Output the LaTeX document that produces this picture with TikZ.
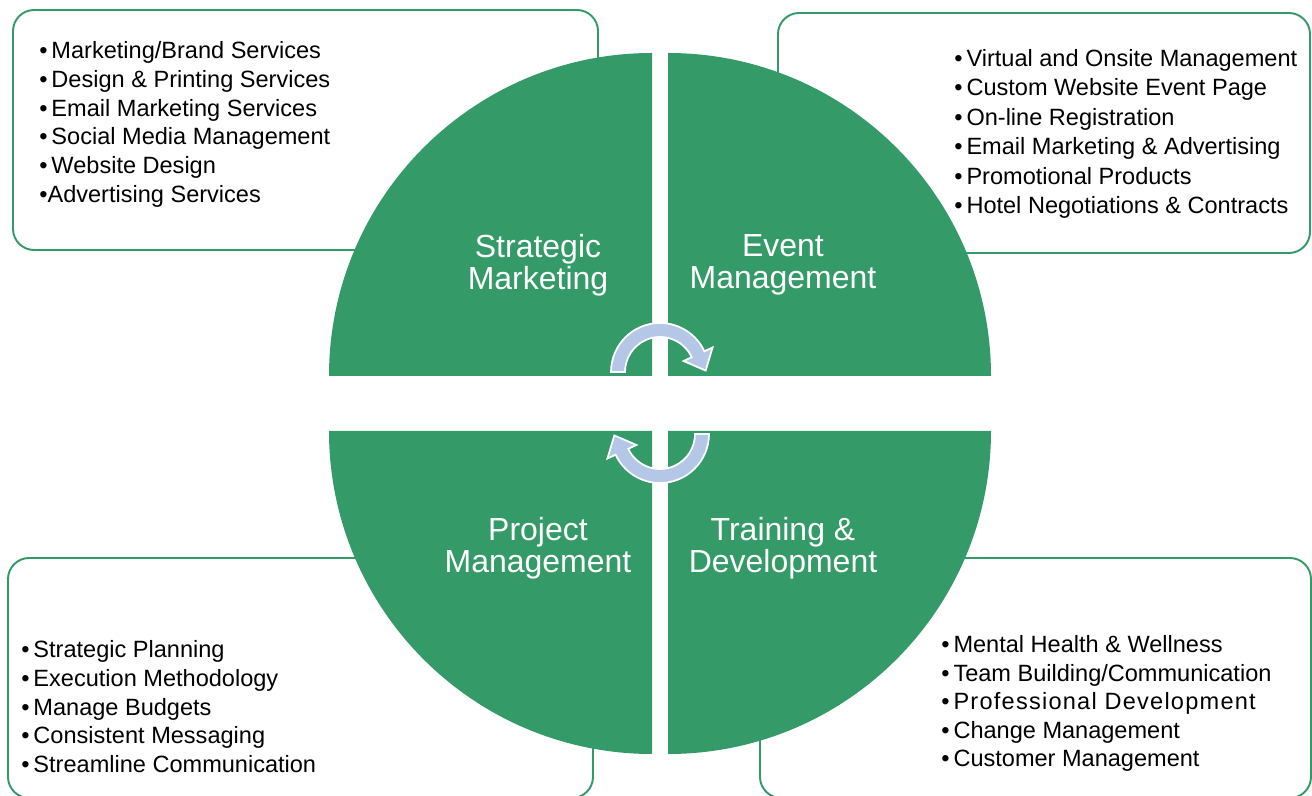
\documentclass[tikz,border=0pt]{standalone}
\usepackage{fontspec}
\setmainfont{Liberation Sans}
\usetikzlibrary{calc}
\definecolor{leafgreen}{RGB}{52,154,104}
\definecolor{cycleblue}{RGB}{180,199,231}
\newcommand{\bul}{\textbullet\,}

\begin{document}
\begin{tikzpicture}[
    x=0.02cm, y=0.02cm,
    infobox/.style={draw=leafgreen, line width=1.1pt, rounded corners=12pt, fill=white},
    quadrant/.style={fill=leafgreen},
    bullets/.style={anchor=north west, inner sep=0pt, align=left,
        font=\fontsize{13.4}{16.4}\selectfont},
    sectorlabel/.style={align=center, text=white, inner sep=0pt,
        font=\fontsize{18.2}{18.2}\selectfont},
    cyclearrow/.style={fill=cycleblue, draw=white, line width=1pt}
]
\useasboundingbox (0,0) rectangle (1312,795);

% service boxes
\draw[infobox] (13,785) rectangle (598,545);
\draw[infobox] (778,782) rectangle (1310,542);
\draw[infobox] (8,237) rectangle (593,-3);
\draw[infobox] (760,237) rectangle (1311,-3);

% the four quarters
\fill[quadrant] (652,419) -- (329,419) arc (180:90:323) -- cycle;
\fill[quadrant] (668,419) -- (668,742) arc (90:0:323) -- cycle;
\fill[quadrant] (652,364) -- (329,364) arc (180:270:323) -- cycle;
\fill[quadrant] (668,364) -- (668,41) arc (270:360:323) -- cycle;

\node[sectorlabel] (strategic) at (538,530) {Strategic\\Marketing};
\node[sectorlabel] (event) at (783,530) {Event\\Management};
\node[sectorlabel] (project) at (538,247) {Project\\Management};
\node[sectorlabel] (training) at (783,247) {Training \&\\Development};

% cycle arrows
\begin{scope}[shift={(660,423)}]
    \draw[cyclearrow] (180:49) arc (180:25:49) -- (25:58)
        -- ($(25:42)+(-65:18)$) -- (25:26) -- (25:35) arc (25:180:35) -- cycle;
\end{scope}
\begin{scope}[shift={(660,361)}, rotate=180]
    \draw[cyclearrow] (180:49) arc (180:25:49) -- (25:58)
        -- ($(25:42)+(-65:18)$) -- (25:26) -- (25:35) arc (25:180:35) -- cycle;
\end{scope}

% lists
\node[bullets] (marketlist) at (39,754) {%
    \bul Marketing/Brand Services\\
    \bul Design \& Printing Services\\
    \bul Email Marketing Services\\
    \bul Social Media Management\\
    \bul Website Design\\
    \textbullet Advertising Services};
\node[bullets, font=\fontsize{13.4}{16.8}\selectfont] (eventlist) at (954,746) {%
    \bul Virtual and Onsite Management\\
    \bul Custom Website Event Page\\
    \bul On-line Registration\\
    \bul Email Marketing \& Advertising\\
    \bul Promotional Products\\
    \bul Hotel Negotiations \& Contracts};
\node[bullets] (projectlist) at (21,155) {%
    \bul Strategic Planning\\
    \bul Execution Methodology\\
    \bul Manage Budgets\\
    \bul Consistent Messaging\\
    \bul Streamline Communication};
\node[bullets, font=\fontsize{13.4}{16.3}\selectfont] (traininglist) at (941,160) {%
    \bul Mental Health \& Wellness\\
    \bul Team Building/Communication\\
    \bul {\addfontfeature{LetterSpace=5.3}Professional Development}\\
    \bul Change Management\\
    \bul Customer Management};

\end{tikzpicture}
\end{document}
